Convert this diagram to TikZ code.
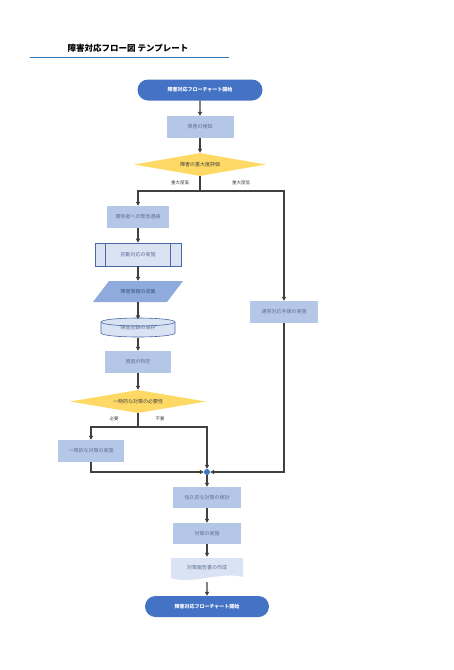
\documentclass[tikz,border=0pt]{standalone}
\usepackage{fontspec}
\newfontfamily\jp{Noto Sans CJK JP}
\usetikzlibrary{arrows.meta,shapes.geometric,calc}
\definecolor{termblue}{HTML}{4472C4}
\definecolor{boxfill}{HTML}{B4C7E7}
\definecolor{lightfill}{HTML}{DAE3F3}
\definecolor{midfill}{HTML}{8FAADC}
\definecolor{gold}{HTML}{FFD966}
\definecolor{edgeblue}{HTML}{4A67A8}
\definecolor{txtblue}{HTML}{5E6F98}
\definecolor{linegray}{HTML}{404040}
\definecolor{titleline}{HTML}{2E74B5}
\tikzset{
  base/.style={inner sep=0pt, align=center, font=\jp\fontsize{5}{6}\selectfont, text=txtblue},
  term/.style={base, rounded rectangle, fill=termblue, text=white, font=\jp\bfseries\fontsize{5}{6}\selectfont, minimum width=125pt, minimum height=21pt},
  procbox/.style={base, rectangle, fill=boxfill, minimum width=67pt, minimum height=22pt},
  decision/.style={base, diamond, fill=gold, aspect=5.8, minimum width=132pt, minimum height=23pt, text=linegray},
  lbl/.style={font=\jp\fontsize{4.5}{5}\selectfont, text=linegray, inner sep=0pt},
  flow/.style={draw=linegray, line width=1.3pt, -{Triangle[length=4pt,width=4pt]}},
  seg/.style={draw=linegray, line width=1.3pt},
}
\usetikzlibrary{shapes.misc}
\begin{document}
\begin{tikzpicture}[x=1pt,y=-1pt]
\useasboundingbox (0,0) rectangle (453,670);
\fill[white] (0,0) rectangle (453,670);
% title
\node[font=\jp\bfseries\fontsize{8.5}{10}\selectfont, inner sep=0pt] (title) at (128,48) {障害対応フロー図 テンプレート};
\draw[titleline, line width=0.6pt] (30,57) -- (229,57);

\node[term] (start) at (200,90) {障害対応フローチャート開始};
\node[procbox] (detect) at (200,127) {障害の検知};
\node[decision, minimum width=132pt] (sev) at (200,164.5) {障害の重大度評価};
\node[procbox, minimum width=62pt] (contact) at (138,217) {関係者への緊急連絡};
\node[base, rectangle, fill=lightfill, draw=edgeblue, line width=0.6pt, minimum width=86pt, minimum height=23pt] (init) at (138,254.5) {初動対応の実施};
\draw[edgeblue, line width=0.6pt] ([xshift=11pt]init.north west) -- ([xshift=11pt]init.south west);
\draw[edgeblue, line width=0.6pt] ([xshift=-11pt]init.north east) -- ([xshift=-11pt]init.south east);
% parallelogram
\fill[midfill] (109,281) -- (183,281) -- (167,302) -- (93,302) -- cycle;
\node[base, minimum width=60pt, minimum height=21pt, text=edgeblue!80!black] (collect) at (138,291.5) {障害情報の収集};
% cylinder
\fill[lightfill] (101,322) arc[start angle=180, end angle=360, x radius=37pt, y radius=4pt] -- (175,333) arc[start angle=0, end angle=-180, x radius=37pt, y radius=4pt] -- cycle;
\draw[edgeblue, line width=0.6pt] (101,322) -- (101,333) arc[start angle=180, end angle=360, x radius=37pt, y radius=4pt] -- (175,322);
\draw[edgeblue, line width=0.6pt, fill=lightfill] (138,322) ellipse[x radius=37pt, y radius=4pt];
\node[base, minimum width=74pt, minimum height=19pt] (record) at (138,328) {\raisebox{-2pt}{障害記録の保存}};
\node[procbox, minimum width=66pt] (cause) at (138,362) {原因の特定};
\node[decision, minimum width=136pt] (temp) at (138,401.5) {一時的な対策の必要性};
\node[procbox, minimum width=66pt] (tempdo) at (91,451) {一時的な対策の実施};
\node[procbox, minimum width=68pt] (normal) at (284,312) {通常対応手順の実施};
\node[circle, fill=termblue, minimum size=6pt, inner sep=0pt] (merge) at (207,472) {};
\node[procbox, minimum width=68pt, minimum height=21pt] (perm) at (207,497.5) {恒久的な対策の検討};
\node[procbox, minimum width=68pt, minimum height=21pt] (apply) at (207,533.5) {対策の実施};
% document shape
\fill[lightfill] (171,558) -- (243,558) -- (243,577) .. controls (222,571) and (192,585) .. (171,578) -- cycle;
\node[base, minimum width=72pt, minimum height=22pt] (report) at (207,568) {対策報告書の作成};
\node[term, minimum width=124pt] (end) at (207,606.5) {障害対応フローチャート開始};

\coordinate (sevj) at (200,191);
\coordinate (tempj) at (138,427);
% connectors
\draw[flow] (start) -- (detect);
\draw[flow] (detect) -- (sev);
\draw[seg] (sev.south) -- (sevj);
\draw[flow] (sevj) -| (contact.north);
\draw[flow] (sevj) -| (normal.north);
\node[lbl] (lhigh) at (180,183) {重大度高};
\node[lbl] (llow) at (241,183) {重大度低};
\draw[flow] (contact) -- (init);
\draw[flow] (init) -- (collect);
\draw[flow] (collect) -- ([yshift=-1pt]record.north);
\draw[flow] (record) -- (cause);
\draw[flow] (cause) -- (temp);
\draw[seg] (temp.south) -- (tempj);
\draw[flow] (tempj) -| (tempdo.north);
\draw[flow] (tempj) -| (merge.north);
\node[lbl] (lneed) at (114,419) {必要};
\node[lbl] (lno) at (160,419) {不要};
\draw[flow] (tempdo.south) |- (merge.west);
\draw[flow] (normal.south) |- (merge.east);
\draw[flow] (merge) -- (perm);
\draw[flow] (perm) -- (apply);
\draw[flow] (apply) -- (report);
\draw[flow] ([yshift=-3pt]report.south) -- (end);
\end{tikzpicture}
\end{document}
